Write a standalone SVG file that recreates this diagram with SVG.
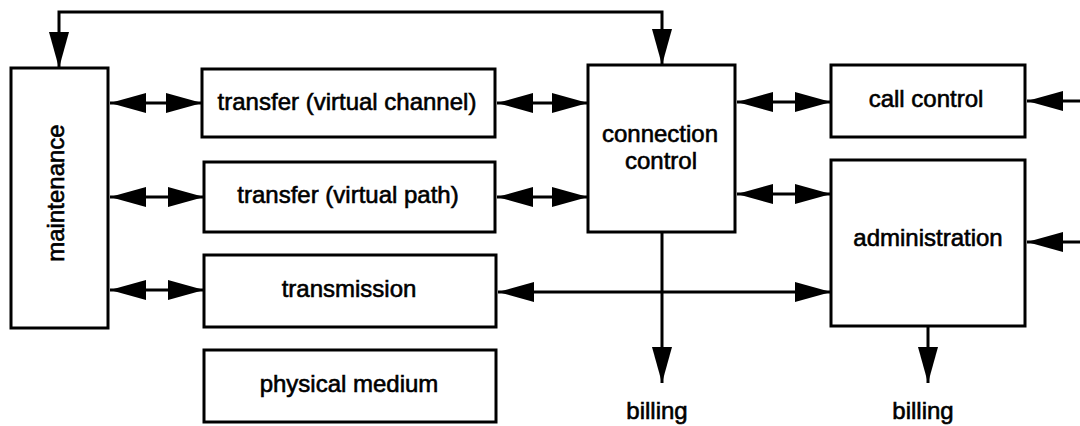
<svg xmlns="http://www.w3.org/2000/svg" width="1080" height="426" viewBox="0 0 1080 426">
  <style>
    .box{fill:#fff;stroke:#000;stroke-width:3}
    .lbl{font-family:"Liberation Sans",Arial,Helvetica,sans-serif;font-size:24px;fill:#000;stroke:#000;stroke-width:0.6;text-anchor:middle}
    .wire{fill:none;stroke:#000;stroke-width:3}
    .two{marker-start:url(#head);marker-end:url(#head)}
    .one{marker-end:url(#head)}
  </style>
  <defs>
    <marker id="head" markerUnits="userSpaceOnUse" markerWidth="36" markerHeight="20" refX="36" refY="10" orient="auto-start-reverse" viewBox="0 0 36 20">
      <path d="M0,0 L36,10 L0,20 Z" fill="#000"/>
    </marker>
  </defs>
  <rect width="1080" height="426" fill="#fff"/>

  <!-- connectors -->
  <g id="connectors">
    <path class="wire two" d="M59,68 V12 H662 V65"/>
    <path class="wire two" d="M110,103 H202"/>
    <path class="wire two" d="M110,197 H204"/>
    <path class="wire two" d="M110,290 H204"/>
    <path class="wire two" d="M497,103 H588"/>
    <path class="wire two" d="M497,197 H588"/>
    <path class="wire two" d="M737,102 H831"/>
    <path class="wire two" d="M737,194 H831"/>
    <path class="wire two" d="M498,292 H831"/>
    <path class="wire one" d="M1080,101 H1027"/>
    <path class="wire one" d="M1080,242 H1027"/>
    <path class="wire one" d="M662,232 V383"/>
    <path class="wire one" d="M928,326 V383"/>
  </g>

  <!-- nodes -->
  <g id="maintenance">
    <rect class="box" x="11" y="68" width="97" height="260"/>
    <text class="lbl" transform="translate(64,193) rotate(-90)">maintenance</text>
  </g>
  <g id="transfer-vc">
    <rect class="box" x="202" y="69" width="293" height="68"/>
    <text class="lbl" x="347" y="110">transfer (virtual channel)</text>
  </g>
  <g id="transfer-vp">
    <rect class="box" x="204" y="162" width="291" height="70"/>
    <text class="lbl" x="348" y="203">transfer (virtual path)</text>
  </g>
  <g id="transmission">
    <rect class="box" x="204" y="255" width="292" height="72"/>
    <text class="lbl" x="349" y="297">transmission</text>
  </g>
  <g id="physical-medium">
    <rect class="box" x="204" y="350" width="292" height="72"/>
    <text class="lbl" x="349" y="392">physical medium</text>
  </g>
  <g id="connection-control">
    <rect class="box" x="588" y="65" width="147" height="167"/>
    <text class="lbl" x="660" y="142">connection</text>
    <text class="lbl" x="661" y="169">control</text>
  </g>
  <g id="call-control">
    <rect class="box" x="831" y="65" width="194" height="72"/>
    <text class="lbl" x="926" y="107">call control</text>
  </g>
  <g id="administration">
    <rect class="box" x="831" y="160" width="194" height="166"/>
    <text class="lbl" x="928" y="246">administration</text>
  </g>
  <g id="billing-cc">
    <text class="lbl" x="657" y="419">billing</text>
  </g>
  <g id="billing-admin">
    <text class="lbl" x="923" y="419">billing</text>
  </g>
</svg>
